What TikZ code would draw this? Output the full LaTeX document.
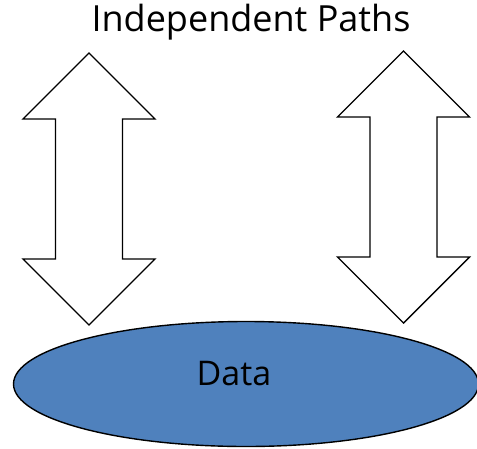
\documentclass[tikz,border=0pt]{standalone}
\usepackage{fontspec}
\setmainfont{Open Sans}
\usetikzlibrary{shapes.geometric}
\definecolor{DataBlue}{HTML}{4F81BD}

\begin{document}
\begin{tikzpicture}[
    x=1pt, y=-1pt,
    blockarrow/.style={draw=black, fill=white, line width=1.4pt, line join=miter},
    store/.style={ellipse, draw=black, fill=DataBlue, line width=1.4pt, minimum width=465pt, minimum height=125pt, inner sep=0pt},
    label/.style={font=\fontsize{34}{40}\selectfont, inner sep=0pt},
    pics/updown/.style={code={
      \draw[blockarrow] (0,0) -- (66,66) -- (33.5,66) -- (33.5,206) -- (66,206) -- (0,272)
        -- (-66,206) -- (-33.5,206) -- (-33.5,66) -- (-66,66) -- cycle;
    }}
  ]
    \useasboundingbox (0,0) rectangle (477,448);

    \node[label, font=\fontsize{36}{42}\selectfont] (title) at (251, 22) {Independent Paths};

    % two double-headed block arrows
    \pic (leftpath) at (89, 53) {updown};
    \pic (rightpath) at (403.5, 51) {updown};

    \node[store] (data) at (246, 384) {};
    \node[label] (datatext) at (234, 374) {Data};
\end{tikzpicture}
\end{document}
